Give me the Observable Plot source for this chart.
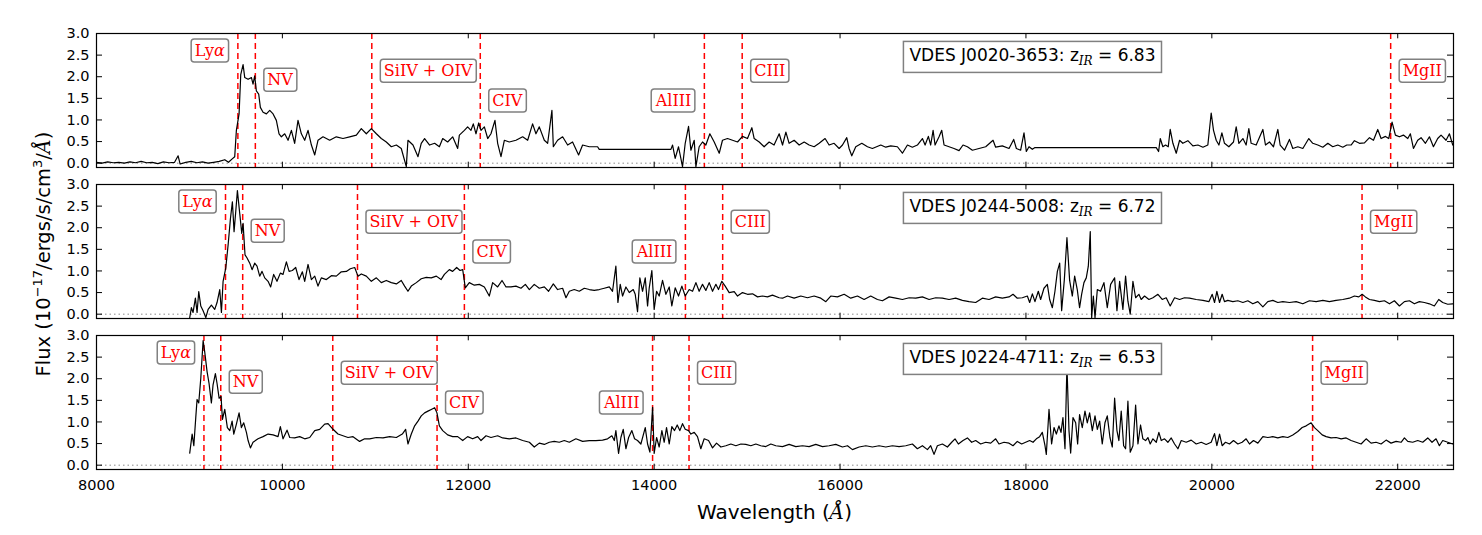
<!DOCTYPE html>
<html><head><meta charset="utf-8">
<script src="https://cdn.jsdelivr.net/npm/d3@7"></script>
<script src="https://cdn.jsdelivr.net/npm/@observablehq/plot@0.6"></script>
<style>body{margin:0;background:#fff;} svg{display:block;}</style>
</head><body><div id="chart"></div>
<script>
// ---------- data ----------
const objects = ["VDES J0020-3653", "VDES J0244-5008", "VDES J0224-4711"];
const zIR = ["6.83", "6.72", "6.53"];
const lineNames = ["Lyα", "NV", "SiIV + OIV", "CIV", "AlIII", "CIII", "MgII"];
const lineWl1 = [9521, 9709, 10962, 12129, 14540, 14947, 21924];
const lineWl2 = [9388, 9573, 10808, 11958, 14336, 14737, 21616];
const lineWl3 = [9156, 9337, 10542, 11664, 13983, 14375, 21084];
const xTicks = [8000, 10000, 12000, 14000, 16000, 18000, 20000, 22000];
const yTicks = [0, 0.5, 1, 1.5, 2, 2.5, 3];

const spec1 = [[8000,0.02],[8060,0.0],[8120,0.03],[8180,0.01],[8240,0.02],[8300,0.0],[8360,0.03],[8420,0.01],[8480,0.04],[8540,0.01],[8600,0.02],[8660,-0.01],[8720,0.03],[8780,0.01],[8840,0.02],[8878,0.17],[8900,-0.02],[8960,0.02],[9020,0.04],[9080,0.01],[9140,0.03],[9200,0.0],[9260,0.02],[9320,0.04],[9380,0.08],[9420,0.02],[9460,0.1],[9487,0.15],[9505,0.76],[9534,1.14],[9552,2.05],[9577,2.28],[9595,1.98],[9631,1.94],[9667,1.98],[9684,1.83],[9702,2.02],[9720,1.67],[9745,1.6],[9763,1.29],[9792,1.18],[9828,1.14],[9864,1.22],[9900,1.14],[9935,0.99],[9964,0.68],[9989,0.61],[10025,0.68],[10061,0.53],[10097,0.76],[10132,0.46],[10168,0.99],[10204,0.68],[10240,0.53],[10276,0.76],[10312,0.42],[10348,0.19],[10383,0.53],[10437,0.61],[10509,0.53],[10580,0.61],[10652,0.57],[10724,0.61],[10796,0.65],[10849,0.8],[10903,0.68],[10957,0.8],[11011,0.68],[11064,0.57],[11118,0.49],[11172,0.38],[11226,0.42],[11279,0.34],[11333,-0.08],[11351,0.53],[11405,0.42],[11459,0.15],[11494,0.46],[11530,0.57],[11584,0.42],[11638,0.46],[11689,0.38],[11725,0.57],[11778,0.49],[11832,0.61],[11886,0.34],[11904,0.65],[11958,0.76],[11993,0.84],[12029,0.76],[12054,0.91],[12083,0.68],[12112,0.93],[12137,0.76],[12173,0.84],[12209,0.57],[12244,0.68],[12287,0.99],[12316,0.46],[12352,0.15],[12388,0.53],[12441,0.49],[12513,0.53],[12585,0.61],[12639,0.53],[12692,0.91],[12728,0.68],[12764,0.84],[12818,0.53],[12854,0.46],[12900,1.22],[12915,0.38],[12961,0.53],[13015,0.61],[13069,0.42],[13122,0.49],[13187,0.19],[13230,0.42],[13302,0.38],[13391,0.38],[13409,0.32],[14180,0.32],[14198,0.42],[14226,0.11],[14262,0.38],[14305,-0.08],[14334,0.46],[14370,0.85],[14395,0.30],[14431,0.53],[14449,-0.08],[14484,0.38],[14520,0.49],[14556,0.42],[14599,0.68],[14646,0.49],[14700,0.23],[14735,0.53],[14789,0.57],[14843,0.53],[14897,0.49],[14950,0.62],[15004,0.57],[15051,0.82],[15076,0.57],[15130,0.49],[15183,0.38],[15237,0.49],[15290,0.42],[15345,0.68],[15381,0.42],[15417,0.72],[15452,0.46],[15506,0.53],[15560,0.42],[15614,0.49],[15667,0.42],[15721,0.38],[15775,0.46],[15839,0.57],[15882,0.42],[15936,0.46],[15990,0.34],[16026,0.42],[16072,0.59],[16097,0.34],[16126,0.17],[16169,0.38],[16234,0.46],[16295,0.38],[16348,0.34],[16438,0.42],[16492,0.37],[16545,0.40],[16617,0.38],[16671,0.23],[16725,0.42],[16778,0.37],[16832,0.42],[16886,0.57],[16915,0.42],[16950,0.62],[16975,0.42],[17001,0.76],[17022,0.42],[17065,0.61],[17094,0.76],[17119,0.42],[17173,0.38],[17226,0.34],[17280,0.29],[17323,0.42],[17370,0.38],[17424,0.30],[17495,0.34],[17567,0.38],[17646,0.53],[17674,0.37],[17746,0.40],[17818,0.34],[17868,0.55],[17897,0.34],[17943,0.30],[17979,0.70],[18004,0.27],[18033,0.38],[18069,0.32],[18097,0.36],[19402,0.36],[19427,0.27],[19445,0.57],[19473,0.38],[19502,0.42],[19531,0.38],[19552,0.78],[19581,0.46],[19617,0.23],[19653,0.53],[19688,0.46],[19742,0.52],[19796,0.40],[19850,0.42],[19904,0.37],[19957,0.42],[19993,1.16],[20018,0.76],[20047,0.53],[20076,0.42],[20108,0.70],[20136,0.46],[20183,0.38],[20233,0.49],[20262,0.84],[20291,0.46],[20334,0.57],[20369,0.42],[20398,0.80],[20423,0.46],[20477,0.42],[20549,0.78],[20577,0.42],[20620,0.49],[20663,0.38],[20710,0.78],[20735,0.42],[20782,0.30],[20835,0.55],[20871,0.34],[20925,0.38],[20979,0.34],[21043,0.57],[21086,0.46],[21140,0.42],[21194,0.37],[21248,0.46],[21301,0.38],[21355,0.42],[21409,0.37],[21452,0.42],[21498,0.42],[21534,0.52],[21588,0.46],[21642,0.47],[21696,0.59],[21739,0.53],[21785,0.78],[21821,0.57],[21868,0.62],[21903,0.57],[21939,0.95],[21975,0.65],[22018,0.61],[22061,0.65],[22108,0.57],[22136,0.68],[22169,0.34],[22215,0.53],[22251,0.59],[22298,0.46],[22341,0.61],[22384,0.38],[22430,0.57],[22466,0.65],[22520,0.53],[22556,0.68],[22592,0.42]];

const spec2 = [[9003,-0.08],[9021,0.15],[9039,0.04],[9064,0.37],[9082,0.04],[9100,0.52],[9122,0.19],[9147,0.08],[9176,-0.08],[9201,0.11],[9236,0.21],[9272,0.11],[9297,0.27],[9326,0.57],[9344,0.04],[9362,0.76],[9391,1.07],[9416,1.60],[9441,2.21],[9462,2.60],[9480,1.91],[9498,2.37],[9516,2.86],[9541,2.33],[9563,1.87],[9577,2.10],[9598,1.37],[9620,1.30],[9649,1.18],[9674,1.03],[9702,1.18],[9727,1.11],[9756,0.88],[9781,0.99],[9810,0.84],[9846,0.76],[9874,0.63],[9906,0.92],[9942,0.76],[9978,0.95],[10007,0.92],[10043,1.21],[10072,0.99],[10107,1.01],[10143,1.08],[10179,0.80],[10215,0.98],[10240,0.76],[10276,1.15],[10312,0.80],[10348,0.88],[10383,0.65],[10419,0.84],[10473,0.80],[10527,0.89],[10580,0.88],[10634,0.98],[10688,0.99],[10731,1.05],[10778,1.08],[10813,0.88],[10849,0.93],[10903,0.88],[10957,0.76],[11011,0.84],[11064,0.73],[11118,0.78],[11172,0.73],[11226,0.70],[11279,0.78],[11315,0.65],[11351,0.53],[11387,0.65],[11441,0.73],[11494,0.82],[11548,0.85],[11602,0.84],[11656,0.88],[11707,0.80],[11743,0.92],[11796,1.03],[11832,0.99],[11875,1.08],[11911,1.01],[11940,1.03],[11968,0.61],[12011,0.73],[12065,0.67],[12119,0.69],[12173,0.63],[12226,0.42],[12262,0.73],[12316,0.63],[12363,0.78],[12406,0.63],[12459,0.63],[12513,0.65],[12567,0.60],[12614,0.69],[12657,0.57],[12710,0.69],[12764,0.60],[12818,0.63],[12864,0.53],[12915,0.70],[12961,0.57],[13015,0.60],[13051,0.38],[13087,0.53],[13140,0.57],[13194,0.53],[13248,0.60],[13302,0.57],[13355,0.55],[13409,0.57],[13463,0.60],[13517,0.63],[13552,0.53],[13588,1.11],[13610,0.27],[13635,0.69],[13660,0.42],[13696,0.63],[13732,0.50],[13775,0.57],[13796,0.46],[13821,0.06],[13846,0.84],[13875,0.53],[13904,0.84],[13929,0.19],[13947,0.61],[13975,1.01],[14000,0.11],[14026,0.53],[14054,0.42],[14090,0.78],[14126,0.46],[14162,0.63],[14190,0.19],[14226,0.61],[14262,0.42],[14298,0.65],[14334,0.42],[14377,0.57],[14413,0.53],[14449,0.73],[14484,0.53],[14520,0.69],[14556,0.55],[14592,0.73],[14628,0.53],[14664,0.69],[14692,0.57],[14728,0.76],[14764,0.65],[14807,0.50],[14861,0.52],[14897,0.42],[14950,0.50],[15004,0.46],[15058,0.47],[15112,0.40],[15165,0.42],[15219,0.40],[15273,0.44],[15345,0.38],[15381,0.37],[15434,0.42],[15506,0.37],[15578,0.42],[15649,0.38],[15721,0.42],[15793,0.37],[15847,0.29],[15900,0.42],[15972,0.40],[16044,0.46],[16115,0.37],[16187,0.42],[16259,0.34],[16330,0.42],[16402,0.34],[16456,0.31],[16528,0.40],[16599,0.37],[16671,0.34],[16743,0.38],[16814,0.37],[16886,0.40],[16958,0.34],[17029,0.38],[17101,0.37],[17173,0.34],[17244,0.37],[17316,0.32],[17388,0.29],[17459,0.27],[17531,0.37],[17603,0.34],[17674,0.40],[17746,0.37],[17818,0.40],[17861,0.46],[17907,0.37],[17961,0.38],[18015,0.42],[18040,0.27],[18069,0.47],[18097,0.29],[18133,0.53],[18158,0.34],[18194,0.60],[18230,0.69],[18255,0.34],[18284,0.15],[18312,0.53],[18338,0.99],[18363,1.18],[18384,0.08],[18413,0.80],[18441,1.77],[18470,0.78],[18499,0.42],[18524,0.88],[18552,0.57],[18577,0.15],[18599,0.46],[18624,0.73],[18649,0.84],[18671,1.11],[18692,1.91],[18707,-0.08],[18725,0.42],[18743,-0.08],[18768,0.57],[18803,0.53],[18839,0.73],[18875,0.15],[18911,0.69],[18954,0.84],[18979,0.08],[19008,0.76],[19043,0.11],[19072,0.88],[19097,0.30],[19122,0.0],[19151,0.76],[19180,0.38],[19215,0.46],[19240,0.34],[19276,0.42],[19323,0.34],[19366,0.38],[19420,0.46],[19466,0.34],[19509,0.38],[19552,0.19],[19599,0.38],[19653,0.34],[19706,0.38],[19760,0.37],[19832,0.34],[19904,0.32],[19968,0.29],[20004,0.46],[20029,0.27],[20054,0.53],[20083,0.27],[20111,0.46],[20136,0.29],[20172,0.32],[20226,0.29],[20280,0.31],[20334,0.27],[20387,0.31],[20441,0.24],[20495,0.29],[20549,0.17],[20602,0.29],[20656,0.32],[20710,0.27],[20764,0.29],[20835,0.27],[20907,0.29],[20979,0.24],[21050,0.31],[21122,0.29],[21194,0.32],[21265,0.29],[21337,0.32],[21409,0.34],[21480,0.37],[21534,0.42],[21581,0.40],[21617,0.46],[21652,0.40],[21696,0.34],[21749,0.32],[21803,0.29],[21857,0.31],[21911,0.24],[21964,0.31],[22018,0.19],[22072,0.29],[22126,0.31],[22179,0.24],[22233,0.29],[22287,0.27],[22341,0.24],[22394,0.19],[22441,0.34],[22484,0.27],[22538,0.23],[22592,0.24]];

const spec3 = [[9003,0.28],[9029,0.72],[9047,0.45],[9068,1.10],[9082,1.52],[9100,1.44],[9122,2.01],[9147,2.88],[9165,2.61],[9190,2.16],[9211,1.89],[9236,1.44],[9254,1.86],[9279,2.12],[9297,1.89],[9319,1.55],[9340,1.59],[9355,1.06],[9380,1.29],[9408,0.87],[9434,0.80],[9459,1.02],[9477,0.72],[9505,0.95],[9534,1.21],[9559,0.87],[9584,0.98],[9613,0.76],[9631,0.57],[9656,0.40],[9684,0.53],[9738,0.61],[9792,0.66],[9846,0.72],[9900,0.70],[9953,0.66],[9978,0.89],[10007,0.61],[10050,0.81],[10079,0.64],[10132,0.63],[10186,0.66],[10240,0.61],[10294,0.64],[10348,0.80],[10401,0.83],[10455,0.95],[10491,0.96],[10545,0.83],[10598,0.72],[10652,0.68],[10706,0.64],[10760,0.66],[10831,0.55],[10885,0.61],[10939,0.61],[11011,0.64],[11082,0.63],[11154,0.66],[11226,0.64],[11290,0.72],[11326,0.83],[11351,0.49],[11387,0.72],[11423,0.91],[11459,1.02],[11494,1.14],[11530,1.21],[11566,1.25],[11602,1.29],[11638,1.33],[11663,1.21],[11689,0.91],[11725,0.80],[11778,0.70],[11832,0.66],[11886,0.66],[11940,0.57],[11993,0.66],[12047,0.61],[12101,0.66],[12137,0.57],[12191,0.68],[12244,0.64],[12316,0.68],[12370,0.63],[12441,0.61],[12513,0.63],[12585,0.57],[12657,0.53],[12710,0.42],[12764,0.51],[12818,0.48],[12872,0.53],[12925,0.55],[12979,0.53],[13033,0.57],[13087,0.53],[13158,0.61],[13230,0.55],[13302,0.57],[13373,0.57],[13445,0.58],[13499,0.61],[13545,0.68],[13571,0.57],[13588,0.80],[13617,0.27],[13642,0.64],[13667,0.83],[13696,0.38],[13725,0.64],[13760,0.80],[13789,0.61],[13821,0.57],[13857,0.49],[13904,0.87],[13929,0.49],[13954,0.30],[13983,1.34],[14000,0.27],[14026,0.64],[14054,0.42],[14083,0.80],[14108,0.53],[14133,0.87],[14162,0.49],[14190,0.89],[14219,0.80],[14248,0.93],[14276,0.80],[14305,0.96],[14334,0.83],[14370,0.80],[14395,0.72],[14431,0.76],[14466,0.66],[14502,0.38],[14538,0.61],[14585,0.57],[14628,0.40],[14671,0.51],[14718,0.42],[14771,0.45],[14825,0.49],[14879,0.45],[14933,0.49],[14986,0.48],[15040,0.45],[15094,0.49],[15147,0.45],[15201,0.43],[15255,0.49],[15309,0.45],[15381,0.43],[15452,0.48],[15524,0.43],[15596,0.45],[15667,0.43],[15739,0.48],[15811,0.43],[15882,0.45],[15954,0.48],[16026,0.42],[16080,0.45],[16133,0.36],[16205,0.42],[16277,0.45],[16348,0.42],[16420,0.45],[16492,0.42],[16563,0.45],[16635,0.43],[16707,0.45],[16778,0.49],[16832,0.38],[16886,0.45],[16940,0.36],[16975,0.45],[17011,0.25],[17047,0.45],[17101,0.49],[17155,0.42],[17201,0.53],[17237,0.61],[17273,0.49],[17323,0.57],[17370,0.63],[17416,0.53],[17459,0.57],[17513,0.49],[17567,0.53],[17621,0.51],[17674,0.61],[17710,0.49],[17764,0.53],[17818,0.51],[17861,0.45],[17907,0.55],[17954,0.49],[17997,0.53],[18040,0.57],[18076,0.53],[18112,0.61],[18147,0.66],[18176,0.76],[18205,0.45],[18219,0.25],[18248,1.29],[18276,0.49],[18302,0.87],[18327,0.72],[18355,0.91],[18377,0.76],[18398,1.10],[18420,0.38],[18441,2.31],[18463,0.80],[18481,0.28],[18506,1.10],[18535,0.98],[18556,0.49],[18577,1.17],[18606,0.87],[18635,1.25],[18660,0.98],[18685,1.21],[18714,0.80],[18743,1.14],[18768,0.83],[18793,1.02],[18821,0.49],[18850,0.98],[18875,1.14],[18904,0.64],[18929,0.42],[18954,1.55],[18979,0.80],[19000,0.57],[19025,1.25],[19051,0.45],[19072,0.38],[19097,1.48],[19122,0.30],[19151,0.45],[19180,1.39],[19205,0.49],[19233,0.93],[19258,0.61],[19287,0.57],[19312,0.64],[19337,0.49],[19366,0.61],[19402,0.53],[19430,0.76],[19456,0.57],[19491,0.61],[19527,0.53],[19563,0.63],[19599,0.49],[19635,0.38],[19671,0.57],[19724,0.53],[19778,0.58],[19832,0.49],[19886,0.53],[19939,0.48],[19993,0.53],[20029,0.73],[20054,0.45],[20083,0.72],[20111,0.45],[20147,0.53],[20190,0.49],[20233,0.57],[20280,0.49],[20326,0.53],[20369,0.61],[20405,0.49],[20448,0.57],[20495,0.51],[20549,0.66],[20602,0.64],[20656,0.66],[20710,0.63],[20764,0.66],[20817,0.64],[20871,0.70],[20925,0.78],[20972,0.87],[21015,0.91],[21068,0.98],[21104,0.87],[21140,0.80],[21187,0.70],[21230,0.66],[21283,0.63],[21337,0.64],[21391,0.61],[21445,0.63],[21498,0.57],[21552,0.53],[21606,0.49],[21660,0.61],[21713,0.51],[21767,0.53],[21821,0.49],[21875,0.58],[21928,0.51],[21982,0.55],[22036,0.53],[22072,0.63],[22108,0.55],[22161,0.53],[22215,0.57],[22269,0.53],[22323,0.63],[22369,0.53],[22412,0.61],[22448,0.45],[22484,0.57],[22538,0.53],[22592,0.49]];

// ---------- layout constants ----------
const labelY = [2.6, 1.92, 2.13, 1.44, 1.44, 2.13, 2.13];
const labelSide = ["left", "right", "right", "right", "left", "right", "right"];
const titleX = 18070, titleY = 2.48;
const W = 1482, H = 535, mL = 96, mR = 29, mT = 32, mB = 65;
const padInner = 0.112;
const facetH = (H - mT - mB) / (3 - padInner) * (1 - padInner);
const plotW = W - mL - mR;

// ---------- tables ----------
const panels = ["a", "b", "c"];
const specs = [spec1, spec2, spec3];
const lineWls = [lineWl1, lineWl2, lineWl3];
const specData = panels.flatMap((p, k) => specs[k].map(([wl, f]) => ({p, wl, f})));
const lineData = panels.flatMap((p, k) => lineNames.map((name, i) => ({p, name, wl: lineWls[k][i], ly: labelY[i], side: labelSide[i]})));
const titleData = panels.map((p, k) => ({p, x: titleX, y: titleY, t: `${objects[k]}: z_IR = ${zIR[k]}`}));

const chart = Plot.plot({
  width: W, height: H, marginLeft: mL, marginRight: mR, marginTop: mT, marginBottom: mB,
  style: {fontFamily: "DejaVu Sans", background: "white", color: "black"},
  x: {domain: [8000, 22600], label: null},
  y: {domain: [-0.1, 3.0], label: null},
  fy: {domain: panels, axis: null, paddingInner: padInner, paddingOuter: 0, label: null},
  marks: [
    Plot.ruleY([0], {stroke: "#8c8c8c", strokeDasharray: "1.5,3", strokeWidth: 1}),
    Plot.ruleX(lineData, {x: "wl", fy: "p", stroke: "red", strokeWidth: 1.5, strokeDasharray: "6,4"}),
    Plot.line(specData, {x: "wl", y: "f", fy: "p", z: "p", stroke: "black", strokeWidth: 1.2, clip: true}),
    Plot.tickY(yTicks, {y: d => d, insetRight: plotW - 6, stroke: "black"}),
    Plot.tickY(yTicks, {y: d => d, insetLeft: plotW - 6, stroke: "black"}),
    Plot.tickX(xTicks, {x: d => d, insetBottom: facetH - 6, stroke: "black"}),
    Plot.tickX(xTicks, {x: d => d, insetTop: facetH - 6, stroke: "black"}),
    Plot.frame({stroke: "black", strokeWidth: 1.2}),
    Plot.axisX({ticks: xTicks, tickSize: 0, tickPadding: 10, tickFormat: "d", fontSize: 14.5, anchor: "bottom"}),
    Plot.axisY({ticks: yTicks, tickSize: 0, tickPadding: 7, tickFormat: ".1f", fontSize: 14.5, anchor: "left"}),
    Plot.text(lineData.filter(d => d.side === "left"), {x: "wl", y: "ly", fy: "p", text: "name", textAnchor: "end", dx: -13, fill: "red", fontFamily: "DejaVu Serif", fontSize: 16}),
    Plot.text(lineData.filter(d => d.side === "right"), {x: "wl", y: "ly", fy: "p", text: "name", textAnchor: "start", dx: 12, fill: "red", fontFamily: "DejaVu Serif", fontSize: 16}),
    Plot.text(titleData, {x: "x", y: "y", fy: "p", text: "t", textAnchor: "middle", fill: "black", fontFamily: "DejaVu Sans", fontSize: 17})
  ]
});
document.getElementById("chart").appendChild(chart);
const svg = d3.select(chart);

// title: subscript IR
svg.selectAll('g[font-size="17"] text').each(function () {
  const [a, b] = this.textContent.split("_IR");
  const s = d3.select(this); s.text(null);
  s.append("tspan").text(a);
  s.append("tspan").attr("dy", 4).attr("font-size", 12).attr("font-style", "italic").attr("font-family", "DejaVu Serif").text("IR");
  s.append("tspan").attr("dy", -4).text(b);
});
// Lyα: italic alpha
svg.selectAll('g[font-family="DejaVu Serif"] text').each(function () {
  const t = this.textContent;
  if (t.includes("α")) {
    const s = d3.select(this); s.text(null);
    s.append("tspan").text(t.replace("α", ""));
    s.append("tspan").attr("font-style", "italic").text("α");
  }
});
function boxes(sel, px, py, rx) {
  sel.each(function () {
    const b = this.getBBox();
    const node = this;
    const r = d3.select(this.parentNode).insert("rect", () => node)
      .attr("x", b.x - px).attr("y", b.y - py)
      .attr("width", b.width + 2 * px).attr("height", b.height + 2 * py)
      .attr("rx", rx).attr("fill", "white").attr("stroke", "#808080").attr("stroke-width", 1.5);
    const tr = this.getAttribute("transform");
    if (tr) r.attr("transform", tr);
  });
}
boxes(svg.selectAll('g[font-family="DejaVu Serif"] text'), 3.5, 2, 3);
boxes(svg.selectAll('g[font-size="17"] text'), 6, 4, 0);

// axis titles
const yl = svg.append("text").attr("transform", "translate(50,254) rotate(-90)")
  .attr("text-anchor", "middle").attr("font-size", 19.5).attr("font-family", "DejaVu Sans").attr("fill", "black");
yl.append("tspan").text("Flux (10");
yl.append("tspan").attr("dy", -8).attr("font-size", 13).text("−17");
yl.append("tspan").attr("dy", 8).text("/ergs/s/cm");
yl.append("tspan").attr("dy", -8).attr("font-size", 13).text("3");
yl.append("tspan").attr("dy", 8).text("/");
yl.append("tspan").attr("font-style", "italic").attr("font-family", "DejaVu Serif").text("Å");
yl.append("tspan").text(")");
const xl = svg.append("text").attr("transform", `translate(${mL + plotW / 2},519)`)
  .attr("text-anchor", "middle").attr("font-size", 20).attr("font-family", "DejaVu Sans").attr("fill", "black");
xl.append("tspan").text("Wavelength (");
xl.append("tspan").attr("font-style", "italic").attr("font-family", "DejaVu Serif").text("Å");
xl.append("tspan").text(")");
</script>
</body></html>
